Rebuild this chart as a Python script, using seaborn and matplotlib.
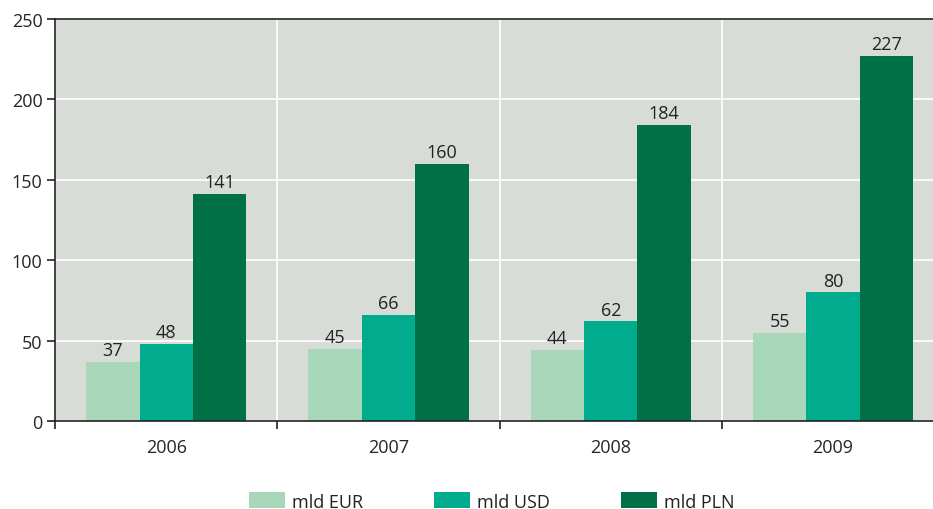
import pandas as pd
import matplotlib.pyplot as plt
import seaborn as sns

years = ['2006', '2007', '2008', '2009']
eur = [37, 45, 44, 55]
usd = [48, 66, 62, 80]
pln = [141, 160, 184, 227]
series = ['mld EUR', 'mld USD', 'mld PLN']
colors = ['#A8D8B9', '#00AB8E', '#007147']

df = pd.DataFrame({
    'year': years * 3,
    'value': eur + usd + pln,
    'series': [series[0]] * 4 + [series[1]] * 4 + [series[2]] * 4,
})

sns.set_style('white')
plt.rcParams['font.family'] = ['Open Sans', 'DejaVu Sans']
plt.rcParams['text.color'] = '#222222'

fig = plt.figure(figsize=(9.33, 5.10), dpi=100)
ax = fig.add_axes([0.059, 0.1725, 0.953, 0.7885])
ax.set_facecolor('#D8DCD6')

sns.barplot(data=df, x='year', y='value', hue='series', palette=colors,
            width=0.72, gap=0, saturation=1, linewidth=0, ax=ax, legend=True)

for cont in ax.containers:
    ax.bar_label(cont, fmt='%d', padding=2, fontsize=13, color='#222222')

ax.set_ylim(0, 250)
ax.set_xlim(-0.5, 3.5)
ax.set_yticks([0, 50, 100, 150, 200, 250])
ax.set_xticks([-0.5, 0.5, 1.5, 2.5, 3.5], minor=True)
ax.tick_params(axis='x', which='major', length=0, pad=12, labelsize=13)
ax.tick_params(axis='x', which='minor', length=6, width=1.2, color='#222222', direction='out', bottom=True)
ax.tick_params(axis='y', length=6, width=1.2, color='#222222', direction='out', left=True, labelsize=13, pad=3)
ax.set_xlabel('')
ax.set_ylabel('')

ax.grid(axis='y', which='major', color='white', linewidth=1.2)
ax.grid(axis='x', which='minor', color='white', linewidth=1.2)
ax.set_axisbelow(True)

for s in ['left', 'bottom', 'top']:
    ax.spines[s].set_color('#222222')
    ax.spines[s].set_linewidth(1.2)
ax.spines['right'].set_visible(False)

handles, labels = ax.get_legend_handles_labels()
ax.get_legend().remove()
fig.legend(handles, labels, loc='lower center', bbox_to_anchor=(0.527, -0.035), ncol=3,
           frameon=False, fontsize=13, handlelength=2.0, handleheight=1.0,
           columnspacing=3.9, handletextpad=0.4)

fig.savefig('out.png', dpi=100)
